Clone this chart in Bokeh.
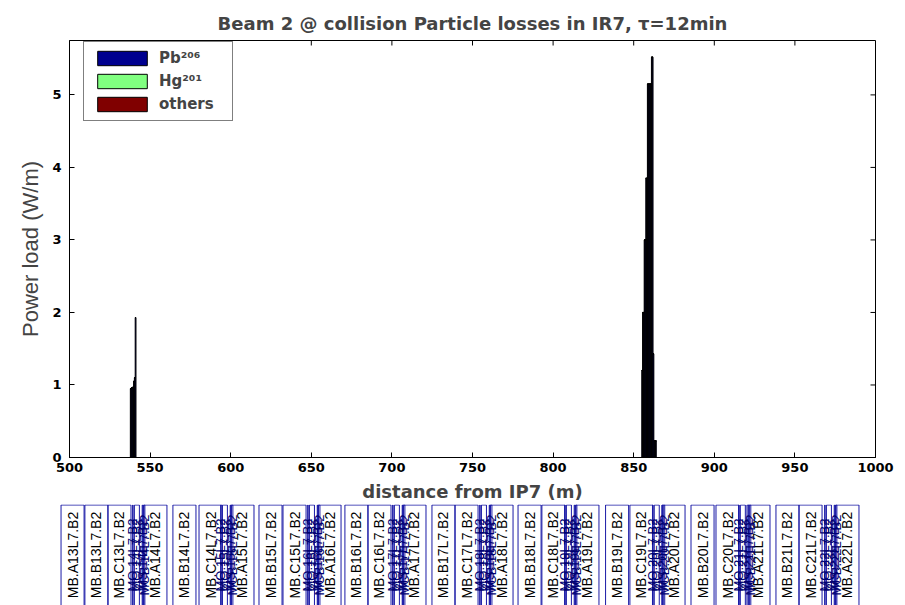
import numpy as np
from bokeh.plotting import figure
from bokeh.models import FixedTicker, Range1d, ColumnDataSource
from bokeh.embed import file_html
from bokeh.resources import INLINE
from bokeh.core.properties import value

# ---------------- data ----------------
title_text = "Beam 2 @ collision Particle losses in IR7, \u03c4=12min"
series_names = ["Pb\u00b2\u2070\u2076", "Hg\u00b2\u2070\u00b9", "others"]
series_colors = ["#00008F", "#80FF80", "#800000"]

# loss bins (distance from IP7, m) and power load (W/m)
bin_s = [538.0, 538.5, 539.0, 539.5, 540.0, 540.5, 541.0,
         855.25, 855.75, 856.25, 856.75, 857.25, 857.75, 858.25, 858.75,
         859.25, 859.75, 860.25, 860.75, 861.25, 861.75, 862.25, 862.75,
         863.25, 863.75]
pb206 = [0.95, 0.96, 0.96, 0.97, 1.05, 1.10, 1.93,
         1.20, 2.00, 2.00, 3.00, 3.00, 3.85, 3.85, 5.15,
         5.15, 5.15, 5.15, 5.15, 5.52, 5.52, 1.43, 0.23,
         0.23, 0.23]
hg201 = [0.0] * len(bin_s)
others = [0.0] * len(bin_s)

x_ticks = [500, 550, 600, 650, 700, 750, 800, 850, 900, 950, 1000]
y_ticks = [0, 1, 2, 3, 4, 5]

# lattice (magnet) strip
dipole_names = ["MB.A13L7.B2", "MB.B13L7.B2", "MB.C13L7.B2",
                "MB.A14L7.B2", "MB.B14L7.B2", "MB.C14L7.B2",
                "MB.A15L7.B2", "MB.B15L7.B2", "MB.C15L7.B2",
                "MB.A16L7.B2", "MB.B16L7.B2", "MB.C16L7.B2",
                "MB.A17L7.B2", "MB.B17L7.B2", "MB.C17L7.B2",
                "MB.A18L7.B2", "MB.B18L7.B2", "MB.C18L7.B2",
                "MB.A19L7.B2", "MB.B19L7.B2", "MB.C19L7.B2",
                "MB.A20L7.B2", "MB.B20L7.B2", "MB.C20L7.B2",
                "MB.A21L7.B2", "MB.B21L7.B2", "MB.C21L7.B2",
                "MB.A22L7.B2"]
dipole_s = [501.9, 516.7, 531.0,
            553.3, 571.3, 587.5,
            607.3, 624.7, 639.6,
            661.3, 678.0, 692.3,
            714.0, 732.0, 746.3,
            768.0, 785.4, 800.2,
            821.3, 839.7, 854.8,
            874.7, 892.7, 908.2,
            927.4, 945.4, 959.7,
            982.6]
dipole_len = 14.3

cell_numbers = [14, 15, 16, 17, 18, 19, 20, 21, 22]
cell_centers = [542.8, 597.4, 651.4, 704.1, 758.1, 810.8, 865.3, 918.7, 972.1]
short_types = ["MO", "MQ", "MS", "MCB"]
short_offsets = [-3.5, -1.0, 2.5, 3.5]
short_lengths = [0.3, 3.1, 0.4, 0.9]

short_names = []
short_s = []
short_len = []
for n, c in zip(cell_numbers, cell_centers):
    for t, o, l in zip(short_types, short_offsets, short_lengths):
        short_names.append(f"{t}.{n}L7.B2")
        short_s.append(c + o)
        short_len.append(l)

# ---------------- main plot ----------------
FRAME_W, FRAME_H = 806, 417
X0, X1 = 500, 1000
Y0, Y1 = 0, 5.75
p = figure(frame_width=FRAME_W, frame_height=FRAME_H,
           min_border_left=69, min_border_right=30,
           min_border_top=40, min_border_bottom=43,
           x_range=Range1d(X0, X1), y_range=Range1d(Y0, Y1),
           output_backend="svg", toolbar_location=None,
           title=title_text)
p.title.align = "center"
p.title.vertical_align = "top"
p.title.text_font = "DejaVu Sans"
p.title.text_font_style = "bold"
p.title.text_font_size = "18px"
p.title.standoff = 10
p.grid.visible = False
p.outline_line_color = "black"
p.background_fill_color = "white"
p.border_fill_color = "white"

src = ColumnDataSource(dict(s=bin_s, pb206=pb206, hg201=hg201, others=others))
p.vbar_stack(["pb206", "hg201", "others"], x="s", width=0.5, source=src,
             fill_color=series_colors, line_color="black", line_width=1,
             legend_label=series_names)

# inward ticks on the top and right box edges
p.ray(x=x_ticks, y=Y1, length=5, length_units="screen", angle=-np.pi / 2,
      line_color="black", line_width=1)
p.ray(x=X1, y=y_ticks, length=5, length_units="screen", angle=np.pi,
      line_color="black", line_width=1)

for ax in (p.xaxis[0], p.yaxis[0]):
    ax.major_tick_in = 5
    ax.major_tick_out = 0
    ax.minor_tick_in = 0
    ax.minor_tick_out = 0
    ax.axis_line_color = "black"
    ax.major_tick_line_color = "black"
    ax.major_label_text_font = "DejaVu Sans"
    ax.major_label_text_font_style = "bold"
    ax.major_label_text_font_size = "13px"
    ax.major_label_text_color = "black"

p.xaxis.ticker = FixedTicker(ticks=x_ticks)
p.yaxis.ticker = FixedTicker(ticks=y_ticks)
p.xaxis.major_label_standoff = 5
p.yaxis.major_label_standoff = 8
p.xaxis.axis_label = "distance from IP7 (m)"
p.xaxis.axis_label_text_font = "DejaVu Sans"
p.xaxis.axis_label_text_font_style = "bold"
p.xaxis.axis_label_text_font_size = "18px"
p.xaxis.axis_label_standoff = 6
p.yaxis.axis_label = "Power load (W/m)"
p.yaxis.axis_label_text_font = "Liberation Sans"
p.yaxis.axis_label_text_font_style = "normal"
p.yaxis.axis_label_text_font_size = "22px"
p.yaxis.axis_label_standoff = 6

lg = p.legend[0]
lg.location = (14, 336)
lg.label_text_font = "DejaVu Sans"
lg.label_text_font_style = "bold"
lg.label_text_font_size = "15px"
lg.glyph_width = 62
lg.glyph_height = 18
lg.label_height = 18
lg.label_width = 66
lg.label_standoff = 6
lg.spacing = 5
lg.padding = 7
lg.margin = 0
lg.border_line_color = "black"
lg.border_line_width = 1
lg.background_fill_color = "white"
lg.background_fill_alpha = 1.0

# ---------------- magnet strip ----------------
px_per_m = FRAME_W / (X1 - X0)
strip_x0 = X0 - 69 / px_per_m
strip_x1 = X0 + (905 - 69) / px_per_m
STRIP_H = 101
q = figure(frame_width=905, frame_height=STRIP_H, min_border=0,
           x_range=Range1d(strip_x0, strip_x1), y_range=Range1d(0, 1),
           x_axis_type=None, y_axis_type=None,
           output_backend="svg", toolbar_location=None)
q.grid.visible = False
q.outline_line_color = None
q.background_fill_color = "white"
q.border_fill_color = "white"

dsrc = ColumnDataSource(dict(
    name=dipole_names, s=dipole_s,
    left=[s - dipole_len / 2 for s in dipole_s],
    right=[s + dipole_len / 2 for s in dipole_s]))
ssrc = ColumnDataSource(dict(
    name=short_names, s=short_s,
    left=[s - l / 2 for s, l in zip(short_s, short_len)],
    right=[s + l / 2 for s, l in zip(short_s, short_len)]))

q.quad(left="left", right="right", top=0.995, bottom=-0.5, source=dsrc,
       fill_color=None, line_color="#1a1aa6", line_width=1)
q.quad(left="left", right="right", top=0.995, bottom=-0.5, source=ssrc,
       fill_color=None, line_color="#1a1aa6", line_width=1)
q.text(x="s", y=0.5, text="name", source=dsrc, angle=np.pi / 2,
       text_align="center", text_baseline="middle",
       text_font=value("Liberation Sans"), text_font_size="14px", text_color="black")
q.text(x="s", y=0.5, text="name", source=ssrc, angle=np.pi / 2,
       text_align="center", text_baseline="middle",
       text_font=value("Liberation Sans"), text_font_size="13px", text_color="#000070")

open("out.html", "w").write(file_html([p, q], INLINE))
